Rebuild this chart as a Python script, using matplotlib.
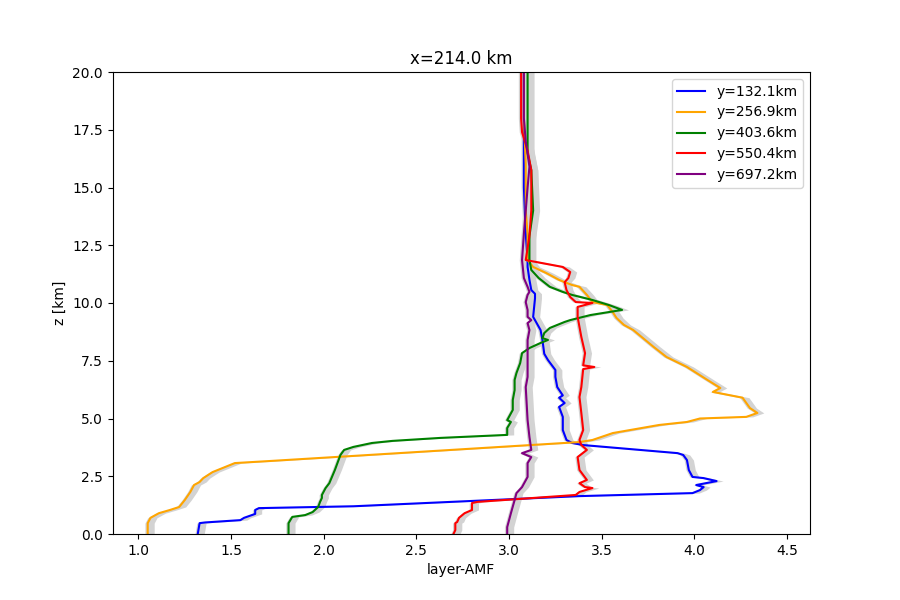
import matplotlib
matplotlib.use("Agg")
import matplotlib.pyplot as plt
import numpy as np

# profiles (z in km, layer-AMF)
z_blue = [0, 0.47, 0.5, 0.6, 0.7, 0.87, 1.04, 1.12, 1.2, 1.64, 1.77, 1.9, 2.03, 2.12, 2.29, 2.42, 2.47,
          2.77, 3.2, 3.42, 3.5, 3.85, 3.94, 4.07, 4.5, 5.07, 5.5, 5.67, 5.9, 6.0, 6.36, 6.8, 7.1, 7.53,
          7.8, 8.4, 8.83, 9.4, 10.2, 10.4, 10.56, 11.0, 11.56, 11.86, 13, 14, 15, 16, 17, 18, 19, 20]
amf_blue = [1.32, 1.33, 1.36, 1.55, 1.57, 1.63, 1.63, 1.65, 2.16, 3.38, 3.99, 4.03, 4.05, 4.01, 4.12, 4.05, 3.99,
            3.97, 3.96, 3.94, 3.91, 3.40, 3.34, 3.31, 3.29, 3.29, 3.27, 3.30, 3.27, 3.29, 3.26, 3.25, 3.25, 3.21,
            3.19, 3.18, 3.17, 3.13, 3.14, 3.14, 3.12, 3.11, 3.10, 3.10, 3.09, 3.085, 3.08, 3.08, 3.08, 3.08, 3.08, 3.08]

z_orange = [0, 0.47, 0.7, 0.9, 1.04, 1.17, 1.47, 1.82, 2.12, 2.25, 2.42, 2.68, 3.07, 3.16, 3.38, 3.98, 4.07,
            4.37, 4.72, 4.85, 5.0, 5.07, 5.24, 5.45, 5.9, 6.15, 6.32, 6.67, 7.23, 7.66, 8.1, 8.83, 9.05, 9.35,
            9.6, 9.91, 10.04, 10.35, 10.7, 10.78, 10.87, 11.0, 11.3, 11.56, 11.86, 13, 14, 15, 16, 17, 18, 19, 20]
amf_orange = [1.05, 1.05, 1.065, 1.11, 1.17, 1.22, 1.25, 1.28, 1.30, 1.33, 1.35, 1.40, 1.52, 1.71, 2.16, 3.38, 3.45,
              3.56, 3.81, 3.96, 4.03, 4.28, 4.34, 4.30, 4.26, 4.10, 4.14, 4.07, 3.96, 3.85, 3.78, 3.67, 3.62, 3.58,
              3.56, 3.53, 3.45, 3.42, 3.38, 3.34, 3.31, 3.27, 3.20, 3.13, 3.10, 3.10, 3.09, 3.09, 3.09, 3.085, 3.08, 3.08, 3.08]

z_green = [0, 0.47, 0.74, 0.82, 0.95, 1.17, 1.39, 1.56, 1.69, 1.99, 2.2, 2.77, 3.42, 3.64, 3.77, 3.94, 4.03,
           4.16, 4.29, 4.59, 4.85, 4.93, 5.37, 5.8, 6.23, 6.67, 6.97, 7.4, 7.83, 8.05, 8.27, 8.4, 8.48, 8.7,
           8.92, 9.05, 9.18, 9.26, 9.48, 9.7, 9.91, 10.13, 10.35, 10.48, 10.7, 11.08, 11.43, 11.86, 12.9, 14.0,
           15.75, 16.5, 17.5, 18.5, 20]
amf_green = [1.81, 1.81, 1.83, 1.90, 1.94, 1.97, 1.98, 1.99, 1.99, 2.01, 2.03, 2.06, 2.09, 2.11, 2.16, 2.26, 2.37,
             2.63, 2.99, 2.99, 3.01, 2.99, 3.02, 3.02, 3.03, 3.03, 3.04, 3.06, 3.07, 3.11, 3.17, 3.21, 3.18, 3.19,
             3.22, 3.26, 3.30, 3.33, 3.44, 3.61, 3.54, 3.45, 3.34, 3.29, 3.22, 3.16, 3.12, 3.11, 3.11, 3.13,
             3.12, 3.10, 3.10, 3.10, 3.10]

z_red = [0, 0.17, 0.47, 0.52, 0.7, 0.9, 1.04, 1.34, 1.39, 1.69, 1.82, 1.99, 2.03, 2.2, 2.34, 2.77, 3.33, 3.64,
         3.85, 4.07, 4.5, 5.24, 5.93, 6.36, 7.14, 7.23, 7.3, 7.83, 8.53, 8.96, 9.4, 9.83, 10.0, 10.04, 10.26,
         10.56, 10.9, 11.08, 11.34, 11.56, 11.86, 12.9, 14.0, 15.75, 16.6, 17.4, 18.0, 20]
amf_red = [2.70, 2.71, 2.71, 2.72, 2.73, 2.76, 2.80, 2.80, 2.83, 3.36, 3.38, 3.45, 3.41, 3.38, 3.42, 3.38, 3.37, 3.42,
           3.39, 3.38, 3.40, 3.39, 3.38, 3.39, 3.40, 3.46, 3.40, 3.41, 3.39, 3.38, 3.37, 3.37, 3.45, 3.36, 3.33,
           3.31, 3.30, 3.32, 3.33, 3.29, 3.09, 3.11, 3.12, 3.12, 3.10, 3.07, 3.065, 3.065]

z_purple = [0, 0.3, 0.6, 0.9, 1.47, 1.77, 2.03, 2.47, 3.07, 3.33, 3.5, 3.64, 4.2, 4.93, 6.36, 6.8, 7.83, 8.4,
            8.83, 9.13, 9.26, 9.4, 9.7, 10.04, 10.35, 10.48, 10.7, 11.08, 11.86, 13, 14, 15, 15.9, 17, 18, 19, 20]
amf_purple = [2.99, 2.99, 3.00, 3.01, 3.03, 3.04, 3.07, 3.10, 3.10, 3.12, 3.07, 3.12, 3.11, 3.10, 3.09, 3.10, 3.10, 3.10,
              3.11, 3.10, 3.12, 3.10, 3.10, 3.09, 3.10, 3.11, 3.10, 3.08, 3.07, 3.08, 3.09, 3.10, 3.11, 3.09, 3.08, 3.08, 3.08]

labels = ["y=132.1km", "y=256.9km", "y=403.6km", "y=550.4km", "y=697.2km"]
colors = ["blue", "orange", "green", "red", "purple"]

profiles = [(z_blue, amf_blue), (z_orange, amf_orange), (z_green, amf_green),
            (z_red, amf_red), (z_purple, amf_purple)]

# spread of the grey band around each profile
band_lo = 0.015
band_hi = 0.035

fig, ax = plt.subplots(figsize=(9, 6), dpi=100)

for z, amf in profiles:
    z = np.array(z)
    amf = np.array(amf)
    ax.fill_betweenx(z, amf - band_lo, amf + band_hi, color="lightgrey", lw=0, zorder=1)

for (z, amf), c, lab in zip(profiles, colors, labels):
    ax.plot(amf, z, color=c, label=lab, zorder=2)

ax.set_ylim(0, 20)
ax.set_xlim(0.86, 4.624)
ax.set_xlabel("layer-AMF")
ax.set_ylabel("z [km]")
ax.set_title("x=214.0 km")
ax.legend(loc="upper right")

fig.savefig("out.png")
